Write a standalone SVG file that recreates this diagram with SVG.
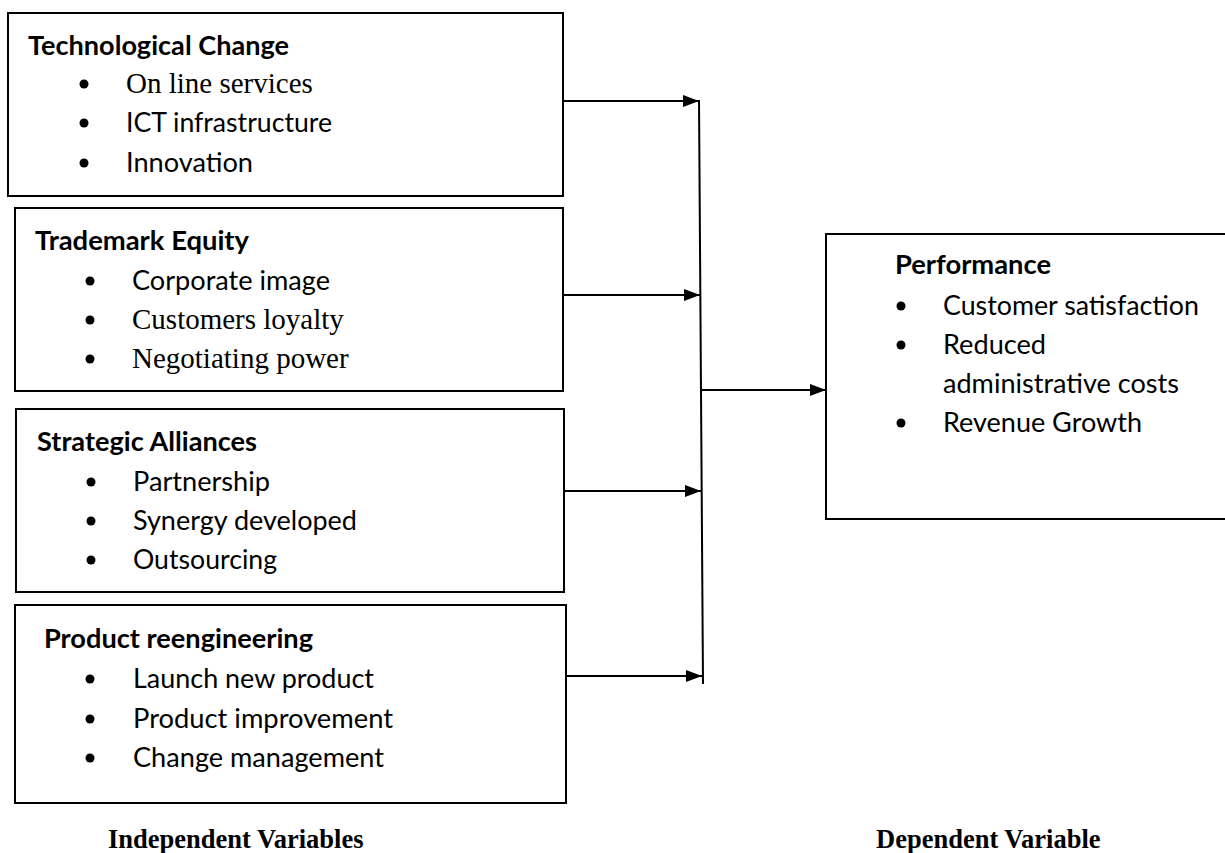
<svg xmlns="http://www.w3.org/2000/svg" width="1225" height="853" viewBox="0 0 1225 853">
<style>
.box{fill:#fff;stroke:#000;stroke-width:2}
.t{font-family:Lato,"Open Sans",sans-serif;font-weight:bold;font-size:26px;fill:#000}
.b{font-family:Lato,"Open Sans",sans-serif;font-size:26px;fill:#000}
.s{font-family:"Liberation Serif","Times New Roman",serif;font-size:29px;fill:#000}
.lab{font-family:"Liberation Serif","Times New Roman",serif;font-weight:bold;font-size:26.5px;fill:#000}
.dot{fill:#000}
.ln{stroke:#000;stroke-width:2;fill:none}
</style>
<defs>
<marker id="ah" markerWidth="16" markerHeight="12" refX="16" refY="6" orient="auto" markerUnits="userSpaceOnUse">
<path d="M0,0 L16,6 L0,12 Z" fill="#000"/>
</marker>
</defs>
<rect x="0" y="0" width="1225" height="853" fill="#fff"/>

<g id="technological-change">
<rect class="box" x="8" y="13" width="555" height="183"/>
<text class="t" x="28" y="55" textLength="261" lengthAdjust="spacingAndGlyphs">Technological Change</text>
<circle class="dot" cx="84" cy="84" r="4.5"/>
<text class="s" x="126" y="93">On line services</text>
<circle class="dot" cx="84" cy="123" r="4.5"/>
<text class="b" x="126" y="132" textLength="206" lengthAdjust="spacingAndGlyphs">ICT infrastructure</text>
<circle class="dot" cx="84" cy="163" r="4.5"/>
<text class="b" x="126" y="172" textLength="127" lengthAdjust="spacingAndGlyphs">Innovation</text>
</g>

<g id="trademark-equity">
<rect class="box" x="15" y="208" width="548" height="183"/>
<text class="t" x="35" y="250" textLength="214" lengthAdjust="spacingAndGlyphs">Trademark Equity</text>
<circle class="dot" cx="90" cy="281" r="4.5"/>
<text class="b" x="132" y="290" textLength="198" lengthAdjust="spacingAndGlyphs">Corporate image</text>
<circle class="dot" cx="90" cy="320" r="4.5"/>
<text class="s" x="132" y="329">Customers loyalty</text>
<circle class="dot" cx="90" cy="359" r="4.5"/>
<text class="s" x="132" y="368">Negotiating power</text>
</g>

<g id="strategic-alliances">
<rect class="box" x="16" y="409" width="548" height="183"/>
<text class="t" x="37" y="451" textLength="220" lengthAdjust="spacingAndGlyphs">Strategic Alliances</text>
<circle class="dot" cx="91" cy="482" r="4.5"/>
<text class="b" x="133" y="491" textLength="137" lengthAdjust="spacingAndGlyphs">Partnership</text>
<circle class="dot" cx="91" cy="521" r="4.5"/>
<text class="b" x="133" y="530" textLength="224" lengthAdjust="spacingAndGlyphs">Synergy developed</text>
<circle class="dot" cx="91" cy="560" r="4.5"/>
<text class="b" x="133" y="569" textLength="144" lengthAdjust="spacingAndGlyphs">Outsourcing</text>
</g>

<g id="product-reengineering">
<rect class="box" x="15" y="605" width="551" height="198"/>
<text class="t" x="44" y="648" textLength="269" lengthAdjust="spacingAndGlyphs">Product reengineering</text>
<circle class="dot" cx="90" cy="679" r="4.5"/>
<text class="b" x="133" y="688" textLength="241" lengthAdjust="spacingAndGlyphs">Launch new product</text>
<circle class="dot" cx="90" cy="719" r="4.5"/>
<text class="b" x="133" y="728" textLength="260" lengthAdjust="spacingAndGlyphs">Product improvement</text>
<circle class="dot" cx="90" cy="758" r="4.5"/>
<text class="b" x="133" y="767" textLength="251" lengthAdjust="spacingAndGlyphs">Change management</text>
</g>

<g id="performance">
<rect class="box" x="826" y="234" width="420" height="285"/>
<text class="t" x="895" y="274" textLength="156" lengthAdjust="spacingAndGlyphs">Performance</text>
<circle class="dot" cx="901" cy="306" r="4.5"/>
<text class="b" x="943" y="315" textLength="256" lengthAdjust="spacingAndGlyphs">Customer satisfaction</text>
<circle class="dot" cx="901" cy="345" r="4.5"/>
<text class="b" x="943" y="354" textLength="103" lengthAdjust="spacingAndGlyphs">Reduced</text>
<text class="b" x="943" y="393" textLength="236" lengthAdjust="spacingAndGlyphs">administrative costs</text>
<circle class="dot" cx="901" cy="423" r="4.5"/>
<text class="b" x="943" y="432" textLength="199" lengthAdjust="spacingAndGlyphs">Revenue Growth</text>
</g>

<g id="connectors">
<line class="ln" x1="699" y1="100" x2="703" y2="684"/>
<line class="ln" x1="563" y1="101" x2="699" y2="101" marker-end="url(#ah)"/>
<line class="ln" x1="563" y1="295" x2="700" y2="295" marker-end="url(#ah)"/>
<line class="ln" x1="564" y1="491" x2="701" y2="491" marker-end="url(#ah)"/>
<line class="ln" x1="566" y1="676" x2="702" y2="676" marker-end="url(#ah)"/>
<line class="ln" x1="701" y1="390" x2="826" y2="390" marker-end="url(#ah)"/>
</g>

<g id="labels">
<text class="lab" x="108" y="848">Independent Variables</text>
<text class="lab" x="876" y="848">Dependent Variable</text>
</g>
</svg>
